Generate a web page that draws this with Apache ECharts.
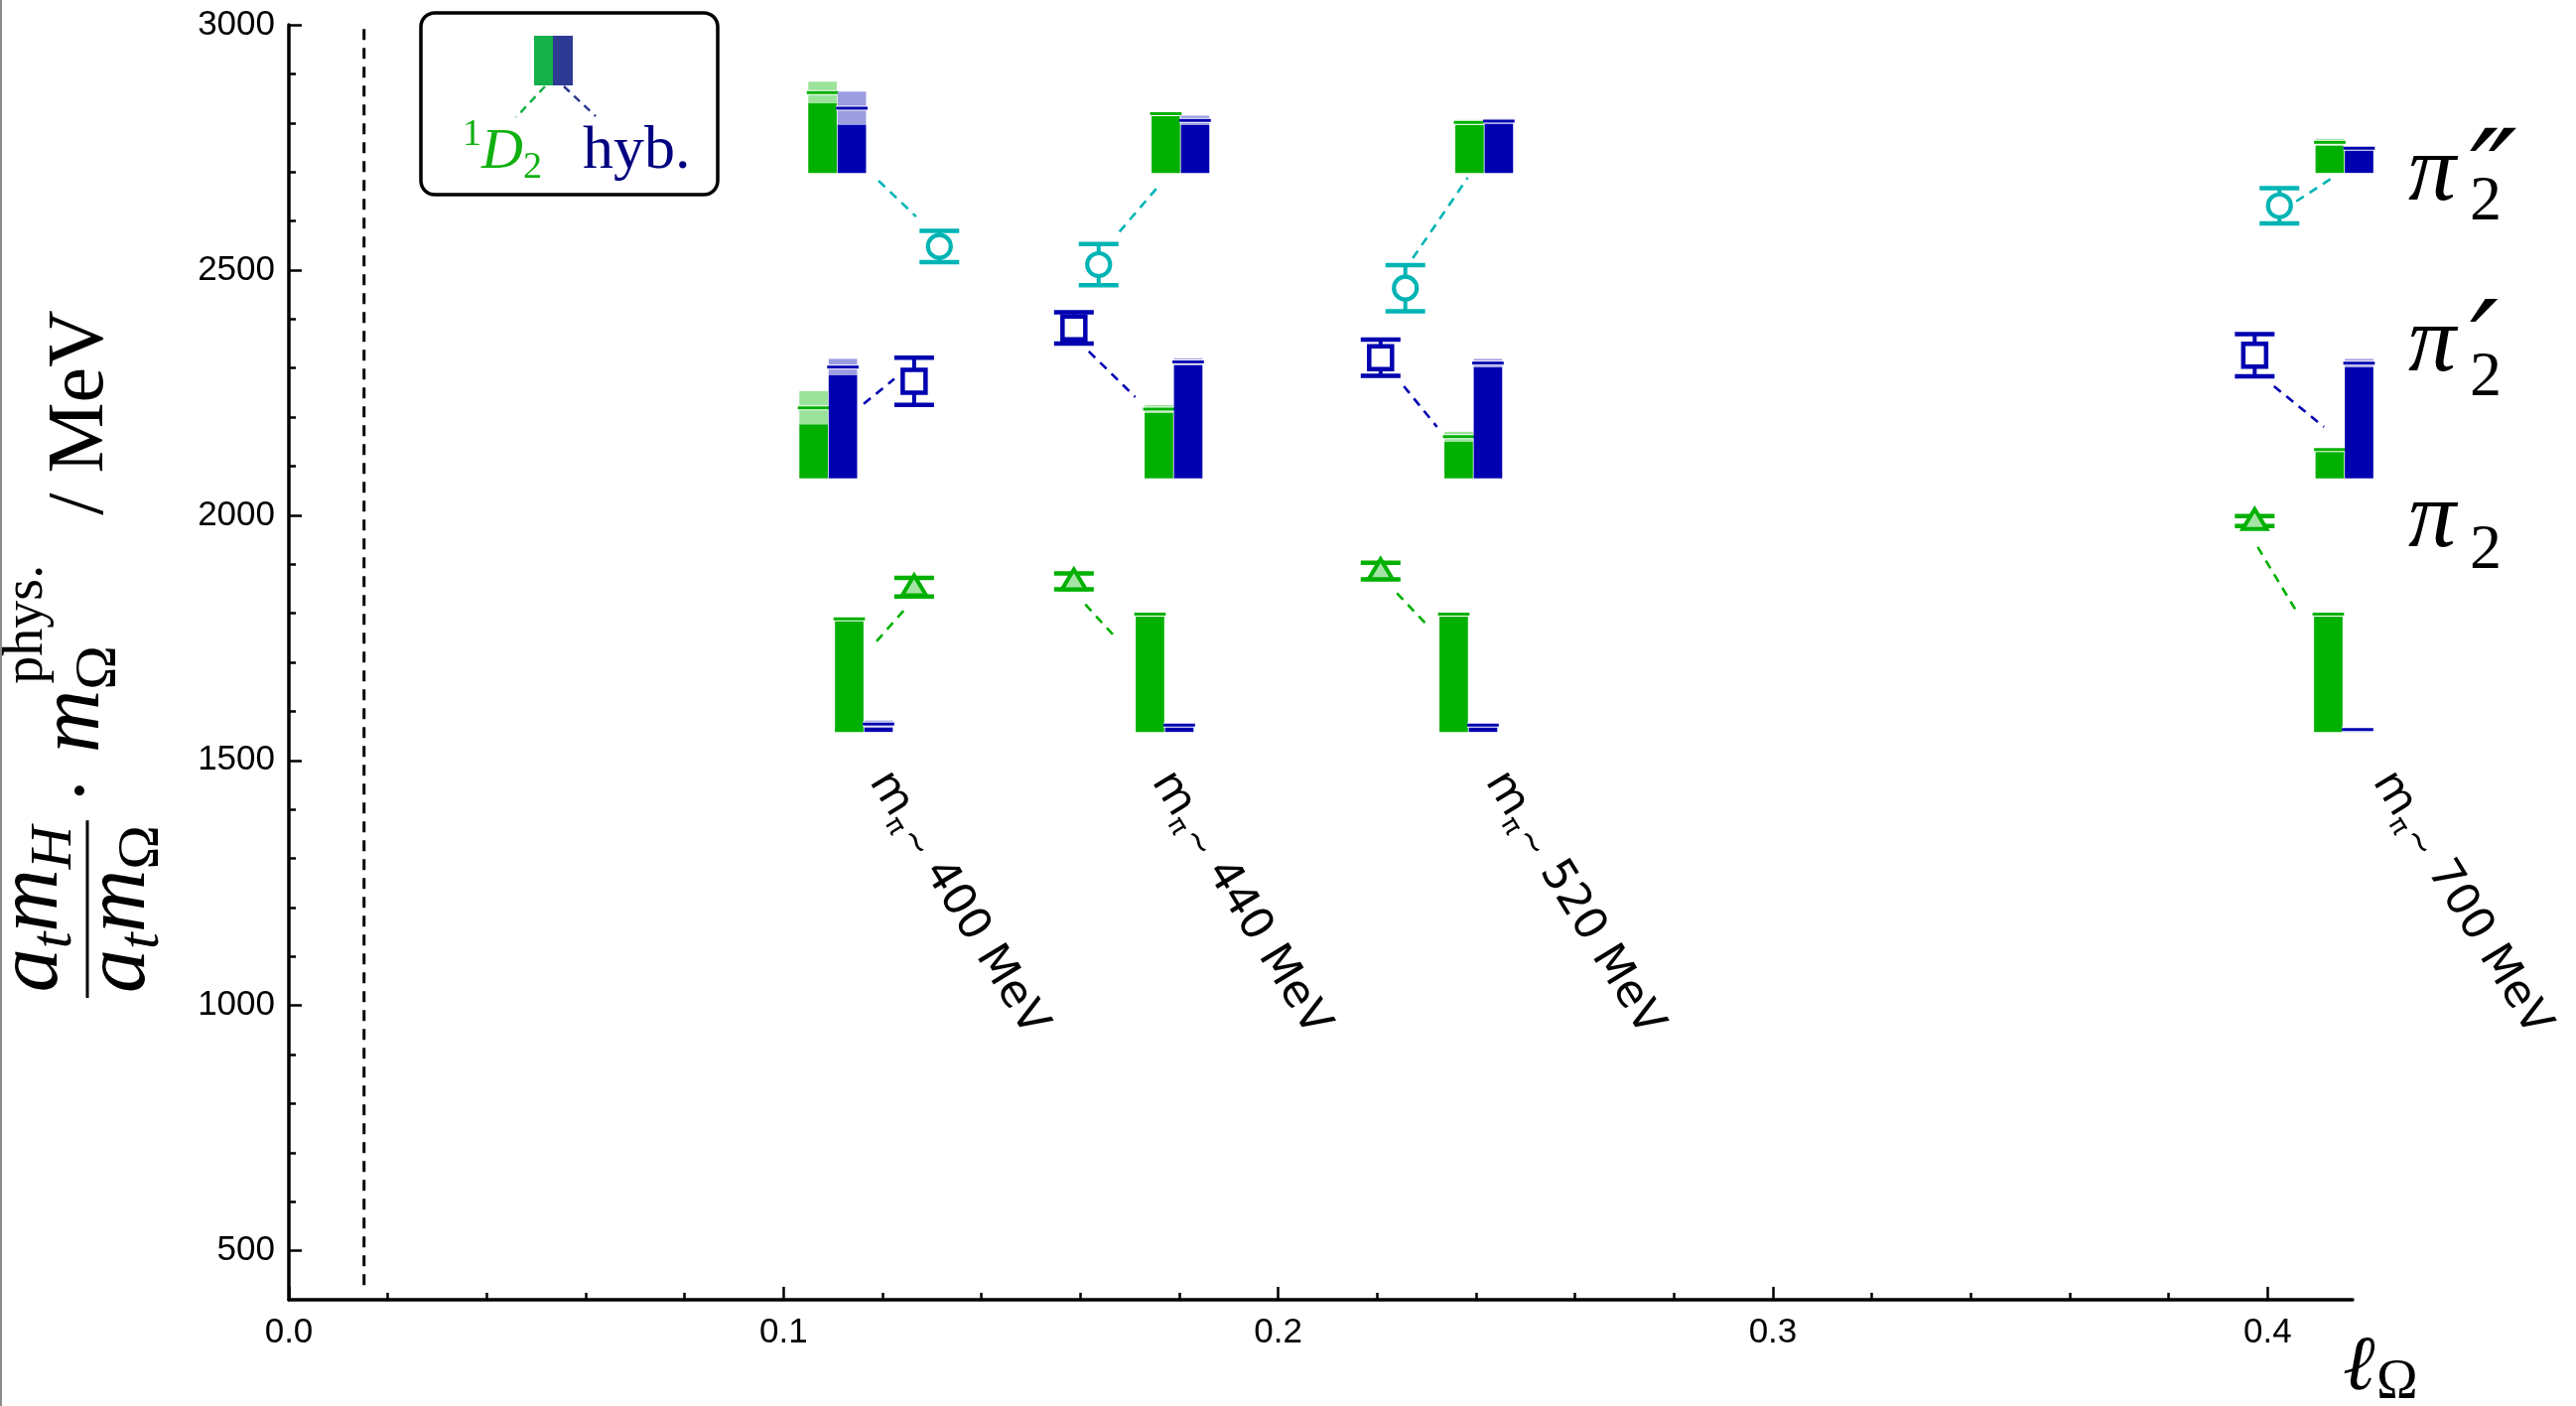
<!DOCTYPE html>
<html>
<head>
<meta charset="utf-8">
<script src="https://cdn.jsdelivr.net/npm/echarts@6/dist/echarts.min.js"></script>
<style>
  html, body { margin: 0; padding: 0; background: #fff; }
  #chart { width: 2595px; height: 1416px; }
</style>
</head>
<body>
<div id="chart"></div>
<script>
// ---- data -------------------------------------------------------------
// pion masses of the four ensembles (MeV)
const ensembles = ['400', '440', '520', '700'];

// l_Omega at which the mass points are plotted
const ellGround = [0.1264, 0.1587, 0.2207, 0.3974];   // pi2 and pi2' points
const ellExcited = [0.1315, 0.1637, 0.2257, 0.4024];  // pi2'' points

// masses and statistical uncertainties (MeV)
const massPi2   = [1853, 1865, 1886, 1988];
const errPi2    = [19, 16, 17, 10];
const massPi2p  = [2273, 2382, 2321, 2326];
const errPi2p   = [48, 32, 37, 43];
const massPi2pp = [2548, 2511, 2463, 2631];
const errPi2pp  = [32, 42, 47, 36];

// operator-overlap histograms: baseline (MeV) of each state's histogram
const histBase = [1558, 2075, 2698];
// l_Omega of the left edge of each histogram pair, [state][ensemble]
const histEll = [
  [0.1104, 0.1712, 0.2326, 0.4094],
  [0.1032, 0.1730, 0.2336, 0.4097],
  [0.1050, 0.1744, 0.2358, 0.4097]
];
// relative overlaps onto the 1D2-like operator, [state][ensemble]
const overlapD2    = [[0.96, 1.00, 1.00, 1.00], [0.600, 0.590, 0.354, 0.245], [0.683, 0.504, 0.430, 0.260]];
const overlapD2Err = [[0.005, 0.008, 0.005, 0.005], [0.140, 0.033, 0.042, 0.010], [0.092, 0.020, 0.020, 0.030]];
// relative overlaps onto the hybrid operator, [state][ensemble]
const overlapHyb    = [[0.067, 0.058, 0.058, 0.020], [0.946, 0.990, 0.980, 0.980], [0.550, 0.446, 0.440, 0.210]];
const overlapHybErr = [[0.030, 0.015, 0.015, 0.010], [0.070, 0.030, 0.035, 0.035], [0.140, 0.040, 0.020, 0.010]];

// dashed guides from each point to its histogram: [l1, m1, l2, m2], [state][ensemble]
const guides = [
  [[0.1188, 1743, 0.1244, 1807], [0.1610, 1818, 0.1669, 1753], [0.2240, 1841, 0.2298, 1779], [0.3980, 1935, 0.4062, 1798]],
  [[0.1162, 2227, 0.1224, 2278], [0.1617, 2334, 0.1711, 2241], [0.2254, 2263, 0.2321, 2180], [0.4013, 2263, 0.4114, 2180]],
  [[0.1192, 2682, 0.1268, 2609], [0.1679, 2578, 0.1758, 2671], [0.2272, 2524, 0.2383, 2688], [0.4058, 2640, 0.4131, 2688]]
];

// where each ensemble's m_pi caption starts
const captionEll = [0.1170, 0.1741, 0.2415, 0.4209];
const captionMass = 1455;

// physical point
const ellPhys = 0.0152;

// axis ticks
const xTicks = [0, 0.1, 0.2, 0.3, 0.4];
const yTicks = [500, 1000, 1500, 2000, 2500, 3000];

// ---- styling ----------------------------------------------------------
const GREEN = '#00b000', BLUE = '#0000b0', CYAN = '#00b4b4';
const GREEN_LIGHT = '#9be29b', BLUE_LIGHT = '#9c9ce1';
const SERIF = "'Liberation Serif', 'DejaVu Serif', serif";
const SANS = "'DejaVu Sans', sans-serif";
const BAR_UNIT = 240;   // MeV of histogram height per unit overlap
const BAR_W = 29.5;     // px per histogram bar
const X_MAX = 0.4172, Y_MIN = 400, Y_MAX = 3000;

const xMinor = [];
for (let i = 1; i <= 20; i++) if (i % 5) xMinor.push(+(i * 0.02).toFixed(2));
const yMinor = [];
for (let v = 500; v < 3000; v += 100) if (v % 500) yMinor.push(v);

// text runs laid out along a baseline (for math-style labels)
const mctx = document.createElement('canvas').getContext('2d');
function runText(pieces, x0, base, color) {
  let cx = x0;
  const els = [];
  for (const p of pieces) {
    const font = (p.italic ? 'italic ' : '') + p.size + 'px ' + (p.fam || SERIF);
    mctx.font = font;
    const w = mctx.measureText(p.t).width;
    cx += p.dx || 0;
    els.push({
      type: 'text', x: cx, y: base + (p.dy || 0) - 0.3 * p.size, silent: true,
      style: { text: p.t, font: font, fill: p.color || color, align: 'left', verticalAlign: 'middle' }
    });
    cx += w;
  }
  return { els: els, width: cx - x0 };
}

// ---- series data ------------------------------------------------------
const markerData = [];
for (let e = 0; e < ensembles.length; e++) {
  markerData.push([ellGround[e], massPi2[e], errPi2[e], 0]);
  markerData.push([ellGround[e], massPi2p[e], errPi2p[e], 1]);
  markerData.push([ellExcited[e], massPi2pp[e], errPi2pp[e], 2]);
}
const histData = [];
for (let s = 0; s < 3; s++) {
  for (let e = 0; e < ensembles.length; e++) {
    histData.push([histEll[s][e], histBase[s], overlapD2[s][e], overlapD2Err[s][e], 0]);
    histData.push([histEll[s][e], histBase[s], overlapHyb[s][e], overlapHybErr[s][e], 1]);
  }
}
const guideData = [];
for (let s = 0; s < 3; s++) {
  for (let e = 0; e < ensembles.length; e++) guideData.push(guides[s][e].concat([s]));
}
const captionData = captionEll.map((l, e) => [l, captionMass, e]);

// ---- renderers --------------------------------------------------------
const stateColor = [GREEN, BLUE, CYAN];

function renderMarker(params, api) {
  const l = api.value(0), m = api.value(1), err = api.value(2), kind = api.value(3);
  const p = api.coord([l, m]);
  const yTop = api.coord([l, m + err])[1];
  const yBot = api.coord([l, m - err])[1];
  const col = stateColor[kind];
  const children = [
    { type: 'line', shape: { x1: p[0], y1: yTop, x2: p[0], y2: yBot }, style: { stroke: col, lineWidth: 4 } },
    { type: 'line', shape: { x1: p[0] - 20, y1: yTop, x2: p[0] + 20, y2: yTop }, style: { stroke: col, lineWidth: 4.5 } },
    { type: 'line', shape: { x1: p[0] - 20, y1: yBot, x2: p[0] + 20, y2: yBot }, style: { stroke: col, lineWidth: 4.5 } }
  ];
  if (kind === 0) {
    children.push({ type: 'polygon', shape: { points: [[p[0], p[1] - 12], [p[0] - 12, p[1] + 8], [p[0] + 12, p[1] + 8]] },
      style: { fill: '#a6e4a6', stroke: col, lineWidth: 4 } });
  } else if (kind === 1) {
    children.push({ type: 'rect', shape: { x: p[0] - 11.5, y: p[1] - 11.5, width: 23, height: 23 },
      style: { fill: '#fff', stroke: col, lineWidth: 4.5 } });
  } else {
    children.push({ type: 'circle', shape: { cx: p[0], cy: p[1], r: 11.5 },
      style: { fill: '#fff', stroke: col, lineWidth: 4.2 } });
  }
  return { type: 'group', children: children };
}

function renderHist(params, api) {
  const l = api.value(0), base = api.value(1), v = api.value(2), err = api.value(3), op = api.value(4);
  const x0 = api.coord([l, base])[0] + op * BAR_W;
  const yBase = api.coord([l, base])[1];
  const yLo = api.coord([l, base + Math.max(v - err, 0) * BAR_UNIT])[1];
  const yHi = api.coord([l, base + (v + err) * BAR_UNIT])[1];
  const yV = api.coord([l, base + v * BAR_UNIT])[1];
  const col = op ? BLUE : GREEN, light = op ? BLUE_LIGHT : GREEN_LIGHT;
  const w = BAR_W - 0.8;
  return {
    type: 'group',
    children: [
      { type: 'rect', shape: { x: x0, y: yLo, width: w, height: yBase - yLo }, style: { fill: col } },
      { type: 'rect', shape: { x: x0, y: yHi, width: w, height: yLo - yHi }, style: { fill: light } },
      { type: 'line', shape: { x1: x0 - 1.5, y1: yV, x2: x0 + w + 1.5, y2: yV }, style: { stroke: '#fff', lineWidth: 5 } },
      { type: 'line', shape: { x1: x0 - 1.5, y1: yV, x2: x0 + w + 1.5, y2: yV }, style: { stroke: col, lineWidth: 3 } }
    ]
  };
}

function renderGuide(params, api) {
  const a = api.coord([api.value(0), api.value(1)]);
  const b = api.coord([api.value(2), api.value(3)]);
  return {
    type: 'line', shape: { x1: a[0], y1: a[1], x2: b[0], y2: b[1] },
    style: { stroke: stateColor[api.value(4)], lineWidth: 2.6, lineDash: [9, 7] }
  };
}

const CAPTION_ANGLE = 58.5 * Math.PI / 180;
function renderCaption(params, api) {
  const p = api.coord([api.value(0), api.value(1)]);
  const e = api.value(2);
  const run = runText([
    { t: 'm', size: 45, fam: SANS },
    { t: 'π', size: 26, fam: SANS, dy: 8 },
    { t: '~', size: 34, fam: SANS, dy: 2, dx: 3 },
    { t: ' ' + ensembles[e] + ' MeV', size: 45, fam: SANS }
  ], 0, 0, '#000');
  return { type: 'group', x: p[0], y: p[1], rotation: -CAPTION_ANGLE, children: run.els };
}

// ---- static annotations ----------------------------------------------
function buildGraphics() {
  const g = [];
  // frame edge on the left
  g.push({ type: 'line', shape: { x1: 1, y1: 0, x2: 1, y2: 1416 }, style: { stroke: '#8c8c8c', lineWidth: 2 }, silent: true });

  // key box
  g.push({ type: 'rect', shape: { x: 424, y: 13, width: 299, height: 183, r: 14 },
    style: { fill: '#fff', stroke: '#000', lineWidth: 3.5 }, silent: true });
  g.push({ type: 'rect', shape: { x: 538, y: 36, width: 19.5, height: 50 }, style: { fill: '#15b04a' }, silent: true });
  g.push({ type: 'rect', shape: { x: 557, y: 36, width: 20, height: 50 }, style: { fill: '#2e3a93' }, silent: true });
  g.push({ type: 'line', shape: { x1: 549, y1: 87, x2: 520, y2: 118 }, style: { stroke: '#15b04a', lineWidth: 2.5, lineDash: [8, 6] }, silent: true });
  g.push({ type: 'line', shape: { x1: 568, y1: 87, x2: 600, y2: 117 }, style: { stroke: '#2e3a93', lineWidth: 2.5, lineDash: [8, 6] }, silent: true });
  runText([
    { t: '1', size: 38, dy: -24 },
    { t: 'D', size: 58, italic: true },
    { t: '2', size: 38, dy: 9 }
  ], 466, 171, '#10b010').els.forEach(el => g.push(el));
  runText([{ t: 'hyb.', size: 62 }], 587, 171, '#000080').els.forEach(el => g.push(el));

  // state names at the right
  const names = [
    { base: 205, sub: 223, prime: '″' },
    { base: 377, sub: 400, prime: '′' },
    { base: 554, sub: 574, prime: '' }
  ];
  names.forEach(n => {
    runText([{ t: 'π', size: 96, italic: true }], 2426, n.base, '#000').els.forEach(el => g.push(el));
    runText([{ t: '2', size: 64 }], 2488, n.sub, '#000').els.forEach(el => g.push(el));
    if (n.prime) runText([{ t: n.prime, size: 128, italic: true, fam: "'DejaVu Serif', serif" }], 2488, n.base + 22, '#000').els.forEach(el => g.push(el));
  });

  // x-axis title
  runText([{ t: 'ℓ', size: 78, italic: true }], 2360, 1402, '#000').els.forEach(el => g.push(el));
  runText([{ t: 'Ω', size: 56 }], 2394, 1410, '#000').els.forEach(el => g.push(el));

  // y-axis title, laid out horizontally then turned to read upwards
  const yt = [];
  const num = [{ t: 'a', size: 88, italic: true }, { t: 't', size: 60, italic: true, dy: 13 },
               { t: 'm', size: 88, italic: true }, { t: 'H', size: 60, italic: true, dy: 13 }];
  const den = [{ t: 'a', size: 88, italic: true }, { t: 't', size: 60, italic: true, dy: 13 },
               { t: 'm', size: 88, italic: true }, { t: 'Ω', size: 60, dy: 13 }];
  const wNum = runText(num, 0, 0).width, wDen = runText(den, 0, 0).width;
  const fracW = Math.max(wNum, wDen) + 10;
  runText(num, (fracW - wNum) / 2, 60, '#000').els.forEach(el => yt.push(el));
  runText(den, (fracW - wDen) / 2, 148, '#000').els.forEach(el => yt.push(el));
  yt.push({ type: 'line', shape: { x1: 0, y1: 88, x2: fracW, y2: 88 }, style: { stroke: '#000', lineWidth: 3 } });
  yt.push({ type: 'circle', shape: { cx: fracW + 30, cy: 80, r: 5 }, style: { fill: '#000' } });
  const mRun = runText([{ t: 'm', size: 88, italic: true }], fracW + 68, 102, '#000');
  mRun.els.forEach(el => yt.push(el));
  const afterM = fracW + 68 + mRun.width;
  runText([{ t: 'Ω', size: 60 }], afterM, 118, '#000').els.forEach(el => yt.push(el));
  const phys = runText([{ t: 'phys.', size: 56 }], afterM + 6, 44, '#000');
  phys.els.forEach(el => yt.push(el));
  runText([{ t: '/ MeV', size: 80 }], afterM + 6 + phys.width + 50, 106, '#000').els.forEach(el => yt.push(el));
  g.push({ type: 'group', x: 0, y: 1005, rotation: Math.PI / 2, children: yt, silent: true });

  return g;
}

// ---- chart ------------------------------------------------------------
const chart = echarts.init(document.getElementById('chart'), null, { renderer: 'canvas', width: 2595, height: 1416 });

const axisText = { color: '#000', fontSize: 35, fontFamily: "'Liberation Sans', Arial, sans-serif" };

chart.setOption({
  animation: false,
  backgroundColor: '#fff',
  grid: { left: 291, right: 225, top: 25, bottom: 107, containLabel: false },
  xAxis: [
    {
      type: 'value', min: 0, max: X_MAX, position: 'bottom',
      axisLine: { show: true, onZero: false, lineStyle: { color: '#000', width: 3.5 } },
      axisTick: { show: true, inside: true, length: 13, lineStyle: { color: '#000', width: 2.5 }, customValues: xTicks },
      axisLabel: Object.assign({ show: true, margin: 16, customValues: xTicks, formatter: v => v.toFixed(1) }, axisText),
      splitLine: { show: false }
    },
    {
      type: 'value', min: 0, max: X_MAX, position: 'bottom',
      axisLine: { show: false },
      axisTick: { show: true, inside: true, length: 7, lineStyle: { color: '#000', width: 2.5 }, customValues: xMinor },
      axisLabel: { show: false }, splitLine: { show: false }
    }
  ],
  yAxis: [
    {
      type: 'value', min: Y_MIN, max: Y_MAX, position: 'left',
      axisLine: { show: true, onZero: false, lineStyle: { color: '#000', width: 3.5 } },
      axisTick: { show: true, inside: true, length: 13, lineStyle: { color: '#000', width: 2.5 }, customValues: yTicks },
      axisLabel: Object.assign({ show: true, margin: 14, customValues: yTicks, formatter: v => String(v) }, axisText),
      splitLine: { show: false }
    },
    {
      type: 'value', min: Y_MIN, max: Y_MAX, position: 'left',
      axisLine: { show: false },
      axisTick: { show: true, inside: true, length: 7, lineStyle: { color: '#000', width: 2.5 }, customValues: yMinor },
      axisLabel: { show: false }, splitLine: { show: false }
    }
  ],
  series: [
    {
      type: 'line', silent: true, symbol: 'none', xAxisIndex: 0, yAxisIndex: 0,
      data: [[ellPhys, 430], [ellPhys, Y_MAX]],
      lineStyle: { color: '#000', width: 3, type: [11, 8] }
    },
    { type: 'custom', silent: true, xAxisIndex: 0, yAxisIndex: 0, renderItem: renderGuide, data: guideData, clip: false },
    { type: 'custom', silent: true, xAxisIndex: 0, yAxisIndex: 0, renderItem: renderHist, data: histData, clip: false },
    { type: 'custom', silent: true, xAxisIndex: 0, yAxisIndex: 0, renderItem: renderMarker, data: markerData, clip: false },
    { type: 'custom', silent: true, xAxisIndex: 0, yAxisIndex: 0, renderItem: renderCaption, data: captionData, clip: false }
  ],
  graphic: buildGraphics()
});
</script>
</body>
</html>
